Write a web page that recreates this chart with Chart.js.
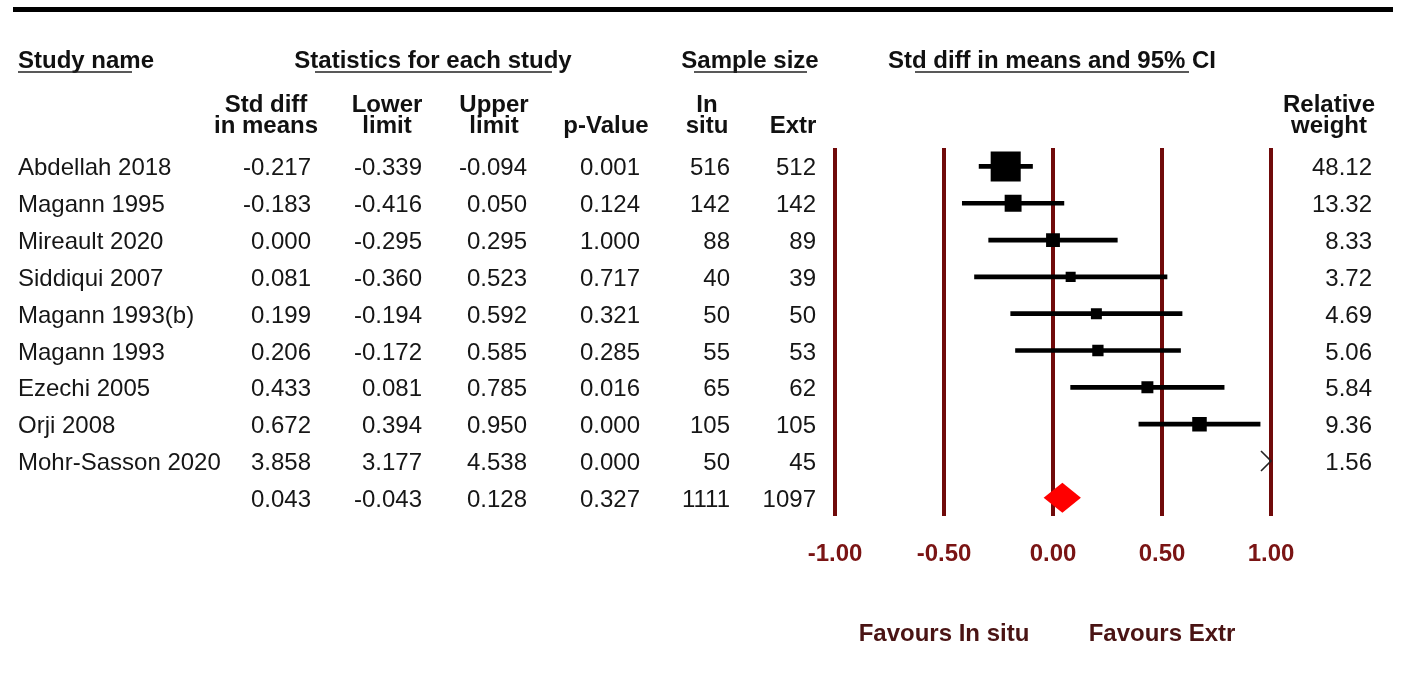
<!DOCTYPE html>
<html>
<head>
<meta charset="utf-8">
<title>Forest plot – Std diff in means</title>
<script src="https://cdn.jsdelivr.net/npm/chart.js@4.4.1/dist/chart.umd.min.js"></script>
<style>
  html, body { margin: 0; padding: 0; background: #ffffff; }
  #wrap { width: 1406px; height: 700px; position: relative; }
</style>
</head>
<body>
<div id="wrap"><canvas id="forest"></canvas></div>
<script>
// ---- Study data ----
const studies   = ['Abdellah 2018', 'Magann 1995', 'Mireault 2020', 'Siddiqui 2007', 'Magann 1993(b)',
                   'Magann 1993', 'Ezechi 2005', 'Orji 2008', 'Mohr-Sasson 2020'];
const stdDiff   = [-0.217, -0.183, 0.000, 0.081, 0.199, 0.206, 0.433, 0.672, 3.858];
const lowerCI   = [-0.339, -0.416, -0.295, -0.360, -0.194, -0.172, 0.081, 0.394, 3.177];
const upperCI   = [-0.094, 0.050, 0.295, 0.523, 0.592, 0.585, 0.785, 0.950, 4.538];
const pValues   = [0.001, 0.124, 1.000, 0.717, 0.321, 0.285, 0.016, 0.000, 0.000];
const nInSitu   = [516, 142, 88, 40, 50, 55, 65, 105, 50];
const nExtr     = [512, 142, 89, 39, 50, 53, 62, 105, 45];
const relWeight = [48.12, 13.32, 8.33, 3.72, 4.69, 5.06, 5.84, 9.36, 1.56];

// ---- Pooled (overall) estimate ----
const pooledEst   = 0.043;
const pooledLower = -0.043;
const pooledUpper = 0.128;
const pooledP     = 0.327;
const pooledNIn   = 1111;
const pooledNEx   = 1097;

// ---- Axis ----
const xTicks = [-1, -0.5, 0, 0.5, 1];
const favourLabels = ['Favours In situ', 'Favours Extr'];
const favourAt     = [-0.5, 0.5];

const rowKeys = studies.concat(['Overall']);

// ---- Styling ----
const FONT = '"Liberation Sans", Arial, sans-serif';
const MAROON = '#700a0a';
const TICK_RED = '#7a1414';
const FAVOUR_COL = '#4a1414';
const TEXT_COL = '#161616';

// column layout (x positions of the table)
const COLS = {
  name: 18,
  est: 311, lower: 422, upper: 527, p: 640, nIn: 730, nEx: 816, weight: 1372
};

const fmt3 = v => v.toFixed(3);

const tablePlugin = {
  id: 'forestTable',
  afterDatasetsDraw(chart) {
    const ctx = chart.ctx;
    const xs = chart.scales.x, ys = chart.scales.y;

    // pooled diamond
    const yc = ys.getPixelForValue(rowKeys.length - 1);
    const half = 15;
    ctx.save();
    ctx.fillStyle = '#ff0000';
    ctx.beginPath();
    ctx.moveTo(xs.getPixelForValue(pooledLower), yc);
    ctx.lineTo(xs.getPixelForValue(pooledEst), yc - half);
    ctx.lineTo(xs.getPixelForValue(pooledUpper), yc);
    ctx.lineTo(xs.getPixelForValue(pooledEst), yc + half);
    ctx.closePath();
    ctx.fill();

    // arrows for intervals lying outside the plotted range
    ctx.strokeStyle = '#222';
    ctx.lineWidth = 1.6;
    studies.forEach((s, i) => {
      const y = ys.getPixelForValue(i);
      if (lowerCI[i] > xs.max) {
        const tip = xs.getPixelForValue(xs.max);
        ctx.beginPath();
        ctx.moveTo(tip - 10, y - 10);
        ctx.lineTo(tip, y);
        ctx.lineTo(tip - 10, y + 10);
        ctx.stroke();
      } else if (upperCI[i] < xs.min) {
        const tip = xs.getPixelForValue(xs.min);
        ctx.beginPath();
        ctx.moveTo(tip + 10, y - 10);
        ctx.lineTo(tip, y);
        ctx.lineTo(tip + 10, y + 10);
        ctx.stroke();
      }
    });
    ctx.restore();
  },
  afterDraw(chart) {
    const ctx = chart.ctx;
    const xs = chart.scales.x, ys = chart.scales.y;
    ctx.save();

    // heavy rule across the top
    ctx.fillStyle = '#000';
    ctx.fillRect(13, 7, 1380, 5);

    // section headers
    ctx.fillStyle = '#111';
    ctx.font = 'bold 24px ' + FONT;
    ctx.textBaseline = 'alphabetic';
    ctx.textAlign = 'left';
    ctx.fillText('Study name', COLS.name, 68);
    ctx.textAlign = 'center';
    ctx.fillText('Statistics for each study', 433, 68);
    ctx.fillText('Sample size', 750, 68);
    ctx.fillText('Std diff in means and 95% CI', 1052, 68);

    // header underlines
    ctx.strokeStyle = '#222';
    ctx.lineWidth = 1.6;
    [[18, 132], [315, 552], [694, 807], [915, 1189]].forEach(([a, b]) => {
      ctx.beginPath();
      ctx.moveTo(a, 72);
      ctx.lineTo(b, 72);
      ctx.stroke();
    });

    // column headers
    const hdr = (t1, t2, x) => {
      if (t1) ctx.fillText(t1, x, 112);
      if (t2) ctx.fillText(t2, x, 133);
    };
    hdr('Std diff', 'in means', 266);
    hdr('Lower', 'limit', 387);
    hdr('Upper', 'limit', 494);
    hdr(null, 'p-Value', 606);
    hdr('In', 'situ', 707);
    hdr(null, 'Extr', 793);
    hdr('Relative', 'weight', 1329);

    // table body
    ctx.fillStyle = TEXT_COL;
    ctx.font = '24px ' + FONT;
    const row = (i, name, e, l, u, p, a, b, w) => {
      const y = ys.getPixelForValue(i) + 9;
      ctx.textAlign = 'left';
      if (name) ctx.fillText(name, COLS.name, y);
      ctx.textAlign = 'right';
      ctx.fillText(fmt3(e), COLS.est, y);
      ctx.fillText(fmt3(l), COLS.lower, y);
      ctx.fillText(fmt3(u), COLS.upper, y);
      ctx.fillText(fmt3(p), COLS.p, y);
      ctx.fillText(String(a), COLS.nIn, y);
      ctx.fillText(String(b), COLS.nEx, y);
      if (w != null) ctx.fillText(w.toFixed(2), COLS.weight, y);
    };
    studies.forEach((s, i) =>
      row(i, s, stdDiff[i], lowerCI[i], upperCI[i], pValues[i], nInSitu[i], nExtr[i], relWeight[i]));
    row(rowKeys.length - 1, null, pooledEst, pooledLower, pooledUpper, pooledP, pooledNIn, pooledNEx, null);

    // favours labels
    ctx.fillStyle = FAVOUR_COL;
    ctx.font = 'bold 24px ' + FONT;
    ctx.textAlign = 'center';
    favourLabels.forEach((t, k) => ctx.fillText(t, xs.getPixelForValue(favourAt[k]), 641));

    ctx.restore();
  }
};

new Chart(document.getElementById('forest'), {
  data: {
    labels: rowKeys,
    datasets: [
      {
        type: 'bar',
        label: '95% CI',
        data: lowerCI.map((l, i) => [l, upperCI[i]]).concat([null]),
        backgroundColor: '#000',
        borderWidth: 0,
        barThickness: 4,
        order: 2
      },
      {
        type: 'scatter',
        label: 'Std diff in means',
        data: stdDiff.map((v, i) => ({ x: v, y: studies[i] })),
        pointStyle: 'rect',
        pointRadius: relWeight.map(w => (2.3 + 4 * Math.sqrt(w)) / Math.SQRT2),
        pointHoverRadius: relWeight.map(w => (2.3 + 4 * Math.sqrt(w)) / Math.SQRT2),
        backgroundColor: '#000',
        borderWidth: 0,
        order: 1
      }
    ]
  },
  options: {
    indexAxis: 'y',
    responsive: true,
    maintainAspectRatio: false,
    animation: false,
    layout: { padding: { left: 835, right: 135, top: 148, bottom: 107 } },
    plugins: { legend: { display: false }, tooltip: { enabled: false } },
    scales: {
      x: {
        type: 'linear',
        position: 'bottom',
        min: -1,
        max: 1,
        afterBuildTicks: axis => { axis.ticks = xTicks.map(v => ({ value: v })); },
        ticks: {
          callback: v => Number(v).toFixed(2),
          color: TICK_RED,
          font: { family: FONT, size: 24, weight: 'bold' },
          padding: 24,
          maxRotation: 0,
          autoSkip: false
        },
        grid: { color: MAROON, lineWidth: 4, drawTicks: false },
        border: { display: false }
      },
      y: {
        type: 'category',
        display: false,
        offset: true,
        grid: { display: false }
      }
    }
  },
  plugins: [tablePlugin]
});
</script>
</body>
</html>
